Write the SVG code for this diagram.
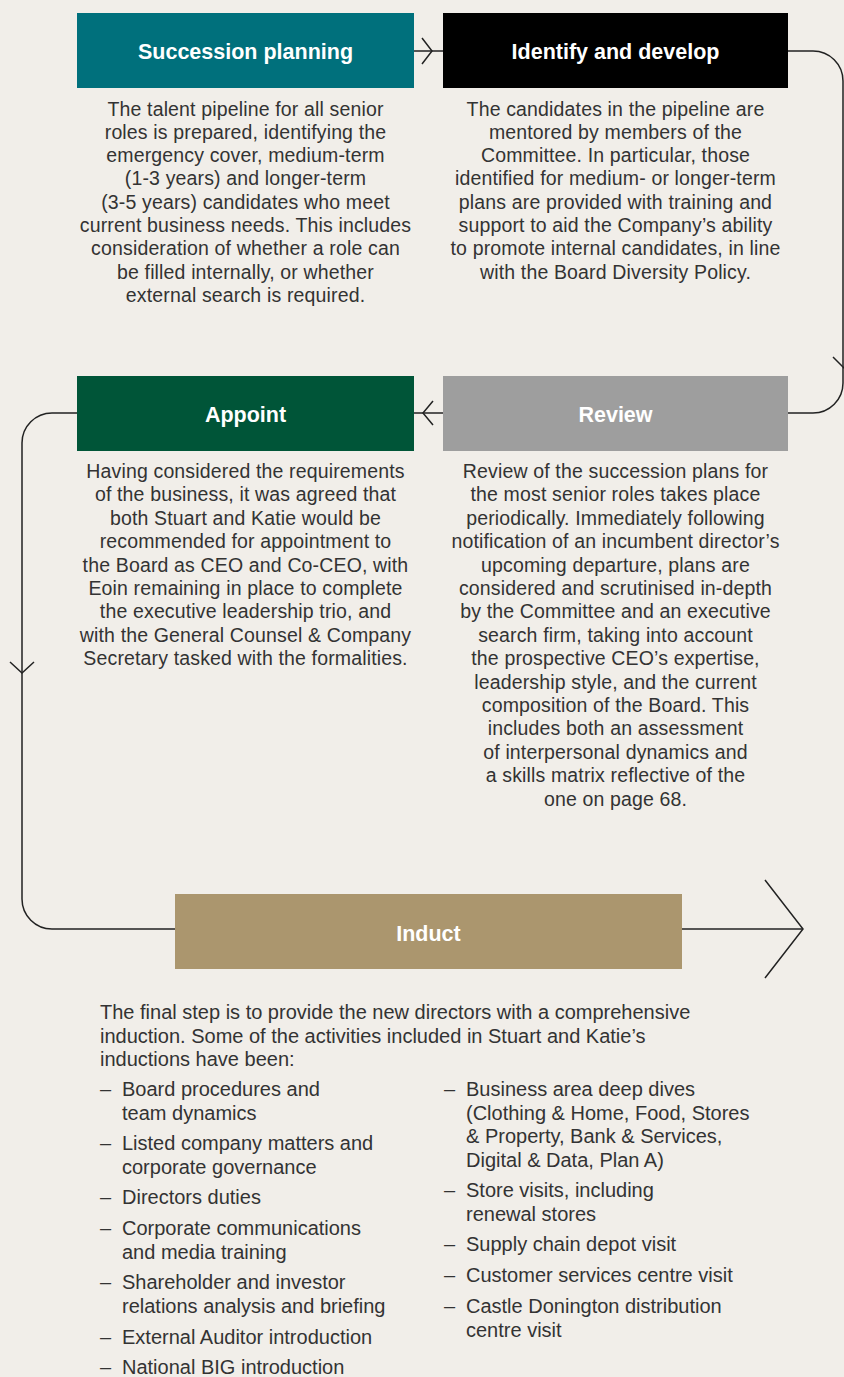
<svg xmlns="http://www.w3.org/2000/svg" width="844" height="1377" viewBox="0 0 844 1377">
<style>
.bg{fill:#f1eee9}
.title{font-family:"Liberation Sans",Arial,sans-serif;font-weight:bold;font-size:21.5px;fill:#ffffff;text-anchor:middle}
.body{font-family:"Liberation Sans",Arial,sans-serif;font-size:19.5px;letter-spacing:0.15px;fill:#333333;text-anchor:middle}
.para{font-family:"Liberation Sans",Arial,sans-serif;font-size:20px;fill:#333333}
.conn{fill:none;stroke:#222222;stroke-width:1.5}
</style>
<rect class="bg" x="0" y="0" width="844" height="1377"/>
<g id="connectors">
<path class="conn" d="M414,51 H443"/>
<path class="conn" d="M422,38 L432,51 L422,64"/>
<path class="conn" d="M788,51 H813 A30,30 0 0 1 843,81 V383 A30,30 0 0 1 813,413 H788"/>
<path class="conn" d="M833,357 L845,369 L857,357"/>
<path class="conn" d="M443,413 H414"/>
<path class="conn" d="M433,401 L423,413 L433,425"/>
<path class="conn" d="M77,413 H52 A30,30 0 0 0 22,443 V899 A30,30 0 0 0 52,929 H175"/>
<path class="conn" d="M10,662 L22,673 L34,662"/>
<path class="conn" d="M682,929 H803"/>
<path class="conn" d="M765,880 L803,929 L765,978"/>
</g>
<g id="succession">
<rect x="77" y="13" width="337" height="75" fill="#00707c"/>
<text class="title" x="245.5" y="59">Succession planning</text>
<text class="body" x="245.5" y="115.5">The talent pipeline for all senior</text>
<text class="body" x="245.5" y="138.8">roles is prepared, identifying the</text>
<text class="body" x="245.5" y="162.1">emergency cover, medium-term</text>
<text class="body" x="245.5" y="185.4">(1-3 years) and longer-term</text>
<text class="body" x="245.5" y="208.7">(3-5 years) candidates who meet</text>
<text class="body" x="245.5" y="232">current business needs. This includes</text>
<text class="body" x="245.5" y="255.3">consideration of whether a role can</text>
<text class="body" x="245.5" y="278.6">be filled internally, or whether</text>
<text class="body" x="245.5" y="301.9">external search is required.</text>
</g>
<g id="identify">
<rect x="443" y="13" width="345" height="75" fill="#000000"/>
<text class="title" x="615.5" y="59">Identify and develop</text>
<text class="body" x="615.5" y="115.5">The candidates in the pipeline are</text>
<text class="body" x="615.5" y="138.8">mentored by members of the</text>
<text class="body" x="615.5" y="162.1">Committee. In particular, those</text>
<text class="body" x="615.5" y="185.4">identified for medium- or longer-term</text>
<text class="body" x="615.5" y="208.7">plans are provided with training and</text>
<text class="body" x="615.5" y="232">support to aid the Company’s ability</text>
<text class="body" x="615.5" y="255.3">to promote internal candidates, in line</text>
<text class="body" x="615.5" y="278.6">with the Board Diversity Policy.</text>
</g>
<g id="appoint">
<rect x="77" y="376" width="337" height="75" fill="#005538"/>
<text class="title" x="245.5" y="422">Appoint</text>
<text class="body" x="245.5" y="478">Having considered the requirements</text>
<text class="body" x="245.5" y="501.4">of the business, it was agreed that</text>
<text class="body" x="245.5" y="524.8">both Stuart and Katie would be</text>
<text class="body" x="245.5" y="548.2">recommended for appointment to</text>
<text class="body" x="245.5" y="571.6">the Board as CEO and Co-CEO, with</text>
<text class="body" x="245.5" y="595">Eoin remaining in place to complete</text>
<text class="body" x="245.5" y="618.4">the executive leadership trio, and</text>
<text class="body" x="245.5" y="641.8">with the General Counsel &amp; Company</text>
<text class="body" x="245.5" y="665.2">Secretary tasked with the formalities.</text>
</g>
<g id="review">
<rect x="443" y="376" width="345" height="75" fill="#9e9e9e"/>
<text class="title" x="615.5" y="422">Review</text>
<text class="body" x="615.5" y="478">Review of the succession plans for</text>
<text class="body" x="615.5" y="501.4">the most senior roles takes place</text>
<text class="body" x="615.5" y="524.8">periodically. Immediately following</text>
<text class="body" x="615.5" y="548.2">notification of an incumbent director’s</text>
<text class="body" x="615.5" y="571.6">upcoming departure, plans are</text>
<text class="body" x="615.5" y="595">considered and scrutinised in-depth</text>
<text class="body" x="615.5" y="618.4">by the Committee and an executive</text>
<text class="body" x="615.5" y="641.8">search firm, taking into account</text>
<text class="body" x="615.5" y="665.2">the prospective CEO’s expertise,</text>
<text class="body" x="615.5" y="688.6">leadership style, and the current</text>
<text class="body" x="615.5" y="712">composition of the Board. This</text>
<text class="body" x="615.5" y="735.4">includes both an assessment</text>
<text class="body" x="615.5" y="758.8">of interpersonal dynamics and</text>
<text class="body" x="615.5" y="782.2">a skills matrix reflective of the</text>
<text class="body" x="615.5" y="805.6">one on page 68.</text>
</g>
<g id="induct">
<rect x="175" y="894" width="507" height="75" fill="#ab966e"/>
<text class="title" x="428.5" y="941">Induct</text>
<text class="para" x="100" y="1019">The final step is to provide the new directors with a comprehensive</text>
<text class="para" x="100" y="1042.5">induction. Some of the activities included in Stuart and Katie’s</text>
<text class="para" x="100" y="1066">inductions have been:</text>
<g id="list-left">
<text class="para" x="100" y="1096">–</text><text class="para" x="122" y="1096">Board procedures and</text>
<text class="para" x="122" y="1119.5">team dynamics</text>
<text class="para" x="100" y="1150">–</text><text class="para" x="122" y="1150">Listed company matters and</text>
<text class="para" x="122" y="1173.5">corporate governance</text>
<text class="para" x="100" y="1204">–</text><text class="para" x="122" y="1204">Directors duties</text>
<text class="para" x="100" y="1235">–</text><text class="para" x="122" y="1235">Corporate communications</text>
<text class="para" x="122" y="1258.5">and media training</text>
<text class="para" x="100" y="1289">–</text><text class="para" x="122" y="1289">Shareholder and investor</text>
<text class="para" x="122" y="1312.5">relations analysis and briefing</text>
<text class="para" x="100" y="1344">–</text><text class="para" x="122" y="1344">External Auditor introduction</text>
<text class="para" x="100" y="1374">–</text><text class="para" x="122" y="1374">National BIG introduction</text>
</g>
<g id="list-right">
<text class="para" x="444" y="1096">–</text><text class="para" x="466" y="1096">Business area deep dives</text>
<text class="para" x="466" y="1119.5">(Clothing &amp; Home, Food, Stores</text>
<text class="para" x="466" y="1143">&amp; Property, Bank &amp; Services,</text>
<text class="para" x="466" y="1166.5">Digital &amp; Data, Plan A)</text>
<text class="para" x="444" y="1197">–</text><text class="para" x="466" y="1197">Store visits, including</text>
<text class="para" x="466" y="1220.5">renewal stores</text>
<text class="para" x="444" y="1251">–</text><text class="para" x="466" y="1251">Supply chain depot visit</text>
<text class="para" x="444" y="1282">–</text><text class="para" x="466" y="1282">Customer services centre visit</text>
<text class="para" x="444" y="1313">–</text><text class="para" x="466" y="1313">Castle Donington distribution</text>
<text class="para" x="466" y="1336.5">centre visit</text>
</g>
</g>
</svg>
